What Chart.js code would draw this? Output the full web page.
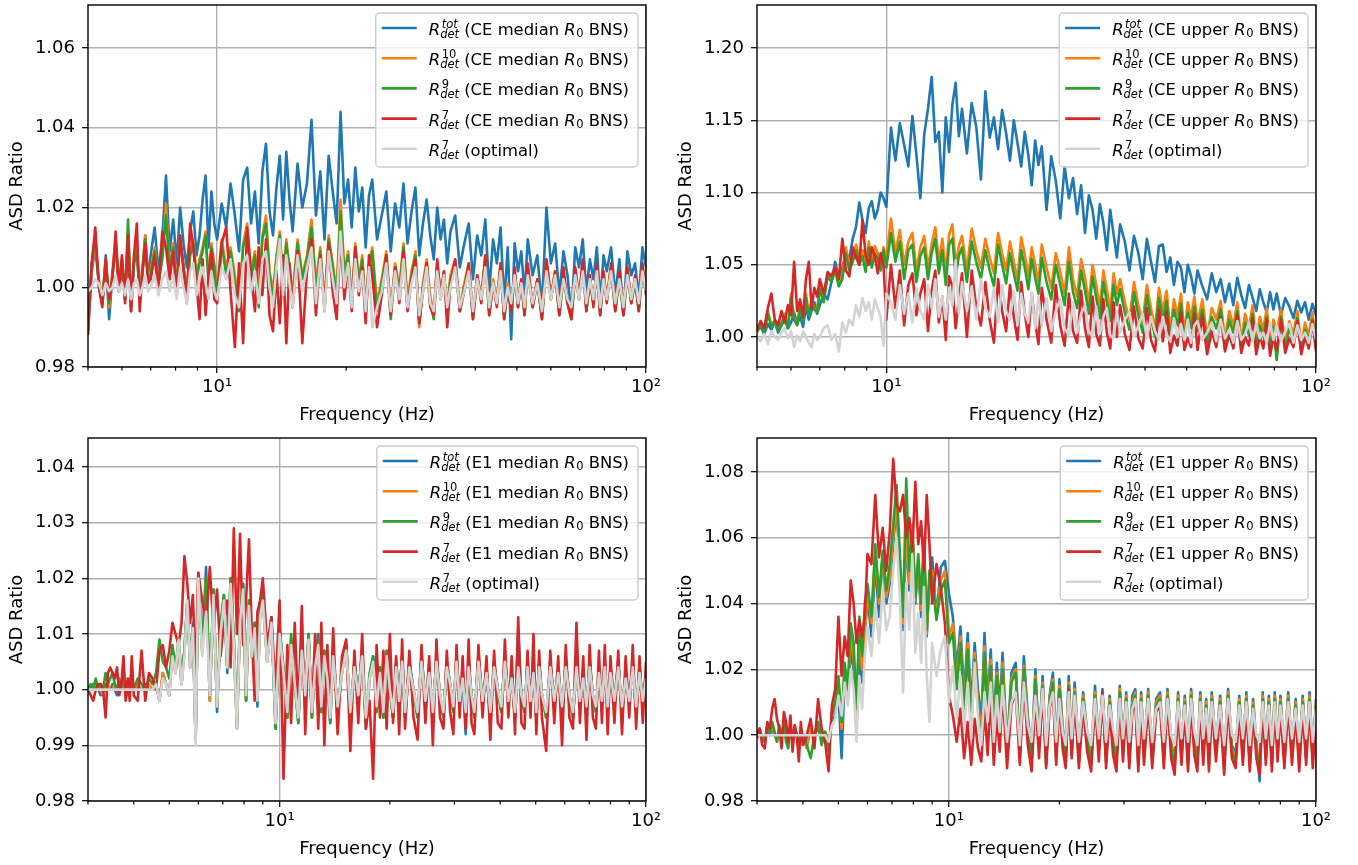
<!DOCTYPE html>
<html><head><meta charset="utf-8">
<script src="https://cdn.jsdelivr.net/npm/chart.js@4.4.1/dist/chart.umd.min.js"></script>
<style>
html,body{margin:0;padding:0;background:#fff;}
body{width:1358px;height:865px;position:relative;overflow:hidden;}
canvas{position:absolute;}
</style></head><body>
<canvas id="c0" width="679" height="433" style="left:0px;top:0px"></canvas>
<canvas id="c1" width="688" height="433" style="left:670px;top:0px"></canvas>
<canvas id="c2" width="679" height="432" style="left:0px;top:433px"></canvas>
<canvas id="c3" width="688" height="432" style="left:670px;top:433px"></canvas>
<script>
// ---------- frequency grids (Hz) ----------
const TOP_FREQ = [
5.0,5.1,5.2,5.3,5.4,5.5,5.6,5.7,5.8,5.9,6.0,6.1,6.2,6.3,6.4,6.5,6.6,6.7,6.8,6.9,
7.0,7.15,7.3,7.45,7.6,7.75,7.9,8.05,8.2,8.35,8.5,8.65,8.8,8.95,9.1,9.25,9.4,9.55,9.7,9.85,
10.0,10.25,10.5,10.75,11.0,11.25,11.5,11.75,12.0,12.25,12.5,12.75,13.0,13.25,13.5,13.75,14.0,14.25,14.5,14.75,
15.0,15.4,15.8,16.2,16.6,17.0,17.4,17.8,18.2,18.6,19.0,19.4,19.8,20.2,20.6,21.0,21.4,21.8,22.2,22.6,
23.0,23.6,24.2,24.8,25.4,26.0,26.6,27.2,27.8,28.4,29.0,29.6,30.2,30.8,31.4,32.0,32.6,33.2,33.8,34.4,
35.0,35.9,36.8,37.7,38.6,39.5,40.4,41.3,42.2,43.1,44.0,44.9,45.8,46.7,47.6,48.5,49.4,50.3,51.2,52.1,
53.0,54.4,55.8,57.2,58.6,60.0,61.4,62.8,64.2,65.6,67.0,68.4,69.8,71.2,72.6,74.0,75.4,76.8,78.2,79.6,
81.0,82.9,84.8,86.7,88.6,90.5,92.4,94.3,96.2,98.1,100];
const BOT_FREQ = [
3.00,3.05,3.10,3.15,3.20,3.25,3.30,3.35,3.40,3.45,3.50,3.55,3.60,3.65,3.70,3.75,3.80,3.85,3.90,3.95,
4.0,4.1,4.2,4.3,4.4,4.5,4.6,4.7,4.8,4.9,5.0,5.1,5.2,5.3,5.4,5.5,5.6,5.7,5.8,5.9,
6.0,6.15,6.3,6.45,6.6,6.75,6.9,7.05,7.2,7.35,7.5,7.65,7.8,7.95,8.1,8.25,8.4,8.55,8.7,8.85,
9.0,9.25,9.5,9.75,10.0,10.25,10.5,10.75,11.0,11.25,11.5,11.75,12.0,12.25,12.5,12.75,13.0,13.25,13.5,13.75,
14.0,14.4,14.8,15.2,15.6,16.0,16.4,16.8,17.2,17.6,18.0,18.4,18.8,19.2,19.6,20.0,20.4,20.8,21.2,21.6,
22.0,22.6,23.2,23.8,24.4,25.0,25.6,26.2,26.8,27.4,28.0,28.6,29.2,29.8,30.4,31.0,31.6,32.2,32.8,33.4,
34.0,34.9,35.8,36.7,37.6,38.5,39.4,40.3,41.2,42.1,43.0,43.9,44.8,45.7,46.6,47.5,48.4,49.3,50.2,51.1,
52.0,53.4,54.8,56.2,57.6,59.0,60.4,61.8,63.2,64.6,66.0,67.4,68.8,70.2,71.6,73.0,74.4,75.8,77.2,78.6,
80,82,84,86,88,90,92,94,96,98,100];

// ---------- CE median R0 BNS (top left) ----------
const TL_TOT = [
0.989,1.004,1.010,1.001,0.996,1.008,0.992,1.003,1.011,0.999,1.005,0.997,1.012,0.994,1.006,1.009,0.998,1.004,1.013,1.002,
1.008,1.015,1.004,1.012,1.028,1.009,1.017,1.006,1.020,1.011,1.005,1.014,1.019,1.008,1.013,1.022,1.028,1.010,1.024,1.016,
1.012,1.021,1.015,1.026,1.018,1.009,1.027,1.030,1.016,1.024,1.011,1.029,1.036,1.019,1.013,1.025,1.033,1.017,1.034,1.022,
1.014,1.031,1.020,1.026,1.042,1.018,1.029,1.012,1.033,1.024,1.016,1.044,1.021,1.027,1.015,1.030,1.019,1.025,1.010,1.023,
1.027,1.012,1.018,1.024,1.009,1.021,1.015,1.026,1.011,1.019,1.025,1.008,1.016,1.022,1.013,1.007,1.020,1.012,1.017,1.006,
1.014,1.018,1.005,1.011,1.016,1.002,1.013,1.008,1.017,0.999,1.012,1.006,1.015,0.996,1.010,0.987,1.011,1.004,1.009,0.998,
1.012,1.003,1.008,0.995,1.020,1.006,1.011,0.998,1.009,1.003,0.993,1.010,1.005,1.012,0.999,1.007,1.002,1.010,0.996,1.008,
1.004,1.010,0.998,1.007,0.993,1.009,1.003,1.006,0.997,1.010,1.005];
const TL_10 = [
0.990,1.005,1.011,1.002,0.997,1.007,0.995,1.004,1.012,1.000,1.006,0.998,1.014,0.996,1.007,1.010,0.999,1.005,1.013,1.003,
1.004,1.010,1.002,1.008,1.021,1.005,1.011,1.001,1.013,1.006,0.999,1.009,1.012,1.003,1.007,1.010,1.014,1.002,1.011,1.006,
1.000,1.012,1.005,1.010,1.003,0.996,1.011,1.016,1.004,1.009,0.998,1.013,1.018,1.004,0.999,1.008,1.014,1.002,1.012,1.005,
0.998,1.012,1.003,1.008,1.017,1.001,1.010,0.996,1.013,1.006,0.999,1.022,1.004,1.009,0.997,1.011,1.002,1.008,0.995,1.006,
1.010,0.996,1.002,1.009,0.994,1.006,1.000,1.011,0.997,1.004,1.009,0.990,1.001,1.007,0.998,0.993,1.006,0.999,1.004,0.995,
1.003,1.007,0.995,1.001,1.006,0.993,1.003,0.998,1.008,0.994,1.002,0.997,1.006,0.993,1.001,0.995,1.004,0.996,1.002,0.994,
1.005,0.996,1.002,0.993,1.007,0.998,1.004,0.994,1.003,0.997,0.993,1.004,0.998,1.006,0.995,1.002,0.997,1.005,0.994,1.003,
0.998,1.005,0.995,1.003,0.994,1.004,0.997,1.002,0.995,1.005,1.000];
const TL_9 = [
0.991,1.006,1.012,1.001,0.996,1.006,0.996,1.003,1.011,1.001,1.007,0.997,1.017,0.995,1.006,1.009,0.998,1.004,1.012,1.002,
1.003,1.009,1.001,1.007,1.018,1.004,1.010,1.000,1.012,1.005,0.998,1.008,1.011,1.002,1.006,1.009,1.013,1.001,1.010,1.005,
0.998,1.011,1.003,1.009,1.001,0.994,1.010,1.014,1.002,1.008,0.995,1.012,1.016,1.003,0.997,1.007,1.013,1.000,1.011,1.004,
0.996,1.011,1.002,1.007,1.015,0.999,1.009,0.994,1.012,1.005,0.997,1.019,1.003,1.008,0.995,1.010,1.001,1.007,0.993,1.005,
1.009,0.994,1.001,1.008,0.992,1.005,0.999,1.010,0.995,1.003,1.008,0.991,1.000,1.006,0.996,0.992,1.005,0.998,1.003,0.994,
1.002,1.006,0.994,1.000,1.005,0.992,1.002,0.997,1.007,0.993,1.001,0.996,1.005,0.992,1.000,0.994,1.003,0.995,1.001,0.993,
1.004,0.995,1.001,0.992,1.006,0.997,1.003,0.993,1.002,0.996,0.992,1.003,0.997,1.005,0.994,1.001,0.996,1.004,0.993,1.002,
0.997,1.004,0.994,1.002,0.993,1.003,0.996,1.001,0.994,1.004,0.999];
const TL_7 = [
0.988,1.006,1.015,1.000,0.995,1.007,0.997,1.002,1.014,0.999,1.008,0.996,1.013,0.994,1.008,1.016,0.994,1.004,1.011,1.001,
1.002,1.008,0.999,1.014,1.010,1.002,1.009,0.998,1.013,1.004,0.996,1.016,1.010,1.001,0.992,1.007,0.993,1.003,1.009,0.997,
0.996,1.011,1.015,0.999,0.985,1.006,0.986,1.015,1.003,0.994,1.010,0.998,1.012,0.993,0.989,1.004,0.991,1.008,0.986,1.006,
0.995,1.009,0.986,1.004,1.012,0.993,1.008,0.995,1.011,0.999,0.992,1.013,0.997,1.006,0.994,1.010,0.998,1.005,0.991,1.008,
1.003,0.990,0.998,1.008,0.993,1.005,0.996,1.009,0.994,1.002,1.007,0.991,0.999,1.006,0.995,0.993,1.007,0.997,1.004,0.990,
1.001,1.007,0.994,0.999,1.006,0.992,1.003,0.996,1.008,0.993,1.001,0.995,1.006,0.992,1.000,0.994,1.005,0.995,1.002,0.993,
1.006,0.995,1.002,0.992,1.007,0.997,1.004,0.993,1.005,0.996,0.992,1.005,0.997,1.007,0.994,1.003,0.995,1.006,0.993,1.004,
0.996,1.006,0.994,1.004,0.993,1.005,0.996,1.003,0.994,1.006,0.998];
const TL_OPT = [
0.999,1.000,1.002,1.001,0.998,1.001,0.999,1.000,1.003,0.999,1.001,0.998,1.002,0.997,1.001,1.002,0.998,1.000,1.003,0.999,
1.000,1.003,0.998,1.002,1.004,0.999,1.003,0.997,1.005,1.000,0.996,1.004,1.006,0.998,1.002,1.005,1.001,0.997,1.004,0.999,
0.997,1.005,1.002,1.007,0.998,0.995,1.006,1.008,0.999,1.004,0.996,1.007,1.009,1.000,0.995,1.005,1.012,0.998,1.008,1.001,
0.995,1.008,0.999,1.005,1.010,0.996,1.007,0.994,1.009,1.002,0.996,1.014,1.000,1.006,0.995,1.007,0.999,1.004,0.994,1.005,
0.990,0.995,0.999,1.006,0.994,1.004,0.997,1.007,0.995,1.001,1.005,0.993,0.999,1.005,0.996,0.994,1.004,0.997,1.003,0.995,
1.000,1.005,0.995,0.999,1.004,0.994,1.002,0.997,1.005,0.995,1.001,0.996,1.004,0.994,1.000,0.996,1.003,0.996,1.001,0.995,
1.003,0.996,1.001,0.994,1.004,0.997,1.003,0.995,1.002,0.997,0.995,1.003,0.997,1.004,0.996,1.002,0.997,1.004,0.995,1.002,
0.997,1.004,0.996,1.002,0.995,1.003,0.997,1.002,0.996,1.004,0.999];

// ---------- CE upper R0 BNS (top right) ----------
const TR_TOT = [
1.004,1.007,1.002,1.009,1.005,1.011,1.003,1.008,1.012,1.006,1.010,1.017,1.009,1.014,1.007,1.021,1.012,1.018,1.024,1.016,
1.022,1.030,1.026,1.038,1.052,1.041,1.048,1.058,1.054,1.068,1.076,1.093,1.081,1.072,1.089,1.094,1.082,1.088,1.100,1.096,
1.090,1.145,1.122,1.148,1.133,1.118,1.153,1.126,1.096,1.140,1.158,1.180,1.135,1.142,1.100,1.152,1.128,1.161,1.176,1.139,
1.158,1.127,1.162,1.145,1.109,1.170,1.138,1.152,1.130,1.157,1.141,1.122,1.150,1.134,1.118,1.142,1.126,1.105,1.136,1.119,
1.132,1.088,1.125,1.108,1.082,1.118,1.096,1.110,1.085,1.105,1.072,1.098,1.088,1.068,1.092,1.079,1.060,1.088,1.071,1.055,
1.078,1.066,1.046,1.070,1.058,1.040,1.068,1.052,1.038,1.063,1.064,1.045,1.055,1.036,1.052,1.048,1.031,1.050,1.042,1.030,
1.046,1.035,1.026,1.044,1.031,1.040,1.024,1.037,1.022,1.041,1.029,1.020,1.036,1.027,1.018,1.033,1.024,1.017,1.031,1.019,
1.030,1.015,1.027,1.021,1.013,1.025,1.017,1.024,1.012,1.023,1.015];
const TR_10 = [
1.003,1.009,1.004,1.018,1.008,1.012,1.005,1.010,1.016,1.007,1.030,1.013,1.009,1.022,1.012,1.030,1.016,1.026,1.020,1.018,
1.036,1.026,1.044,1.040,1.048,1.038,1.043,1.062,1.050,1.056,1.064,1.055,1.060,1.048,1.066,1.052,1.063,1.058,1.050,1.062,
1.055,1.082,1.058,1.074,1.050,1.066,1.072,1.046,1.062,1.070,1.048,1.064,1.076,1.052,1.068,1.045,1.071,1.078,1.050,1.063,
1.070,1.047,1.075,1.060,1.048,1.068,1.055,1.044,1.072,1.058,1.046,1.066,1.052,1.040,1.069,1.057,1.042,1.062,1.050,1.038,
1.064,1.048,1.034,1.058,1.045,1.030,1.062,1.040,1.028,1.054,1.041,1.024,1.050,1.036,1.020,1.046,1.033,1.018,1.044,1.030,
1.040,1.024,1.012,1.038,1.022,1.010,1.036,1.020,1.006,1.034,1.018,1.032,1.004,1.026,1.015,1.030,1.002,1.024,1.013,1.028,
1.010,1.026,1.000,1.020,1.012,1.025,0.998,1.018,1.008,1.024,0.997,1.016,1.006,1.022,0.998,1.014,1.005,1.020,0.996,1.012,
1.004,1.019,0.995,1.011,1.002,1.018,0.994,1.010,1.001,1.017,0.996];
const TR_9 = [
1.004,1.008,1.003,1.016,1.007,1.011,1.004,1.009,1.014,1.006,1.027,1.012,1.008,1.020,1.011,1.027,1.015,1.024,1.019,1.017,
1.033,1.024,1.042,1.038,1.046,1.035,1.040,1.058,1.046,1.052,1.060,1.050,1.056,1.045,1.062,1.048,1.058,1.054,1.046,1.060,
1.048,1.072,1.052,1.066,1.040,1.060,1.064,1.038,1.056,1.062,1.040,1.058,1.068,1.044,1.060,1.036,1.064,1.068,1.042,1.056,
1.062,1.038,1.066,1.052,1.040,1.060,1.046,1.035,1.064,1.050,1.037,1.058,1.044,1.032,1.060,1.048,1.033,1.054,1.041,1.030,
1.055,1.038,1.026,1.050,1.036,1.022,1.052,1.031,1.020,1.046,1.032,1.016,1.042,1.027,1.013,1.038,1.024,1.011,1.036,1.022,
1.033,1.017,1.005,1.031,1.015,1.003,1.029,1.013,1.000,1.027,1.011,1.025,0.998,1.019,1.008,1.023,0.997,1.017,1.006,1.021,
1.004,1.019,0.995,1.014,1.006,1.019,0.993,1.012,1.003,1.018,0.992,1.010,1.001,1.016,0.993,1.008,1.000,1.014,0.991,1.007,
0.984,1.014,0.992,1.006,0.998,1.013,0.991,1.005,0.997,1.012,0.993];
const TR_7 = [
1.005,1.011,1.006,1.020,1.030,1.012,1.008,1.018,1.010,1.022,1.015,1.052,1.018,1.026,1.014,1.040,1.052,1.020,1.034,1.028,
1.040,1.030,1.045,1.042,1.048,1.040,1.068,1.046,1.042,1.062,1.055,1.050,1.081,1.056,1.050,1.062,1.056,1.044,1.058,1.050,
1.012,1.050,1.020,1.046,1.008,1.036,1.044,1.015,1.030,1.040,1.004,1.032,1.046,1.010,1.028,0.998,1.042,1.035,1.006,1.026,
1.044,1.000,1.046,1.020,1.008,1.038,1.012,0.996,1.040,1.018,1.004,1.036,1.014,0.998,1.038,1.016,1.000,1.030,1.010,0.995,
1.034,1.012,0.996,1.036,1.008,0.994,1.030,1.004,0.996,1.032,1.006,0.993,1.028,1.002,0.994,1.026,1.003,0.992,1.024,1.000,
1.022,1.002,0.991,1.021,0.999,0.992,1.020,0.998,0.990,1.019,0.997,1.018,0.989,1.001,0.994,1.017,0.991,0.999,0.993,1.016,
0.991,1.015,0.988,1.004,0.993,1.014,0.990,1.002,0.992,1.015,0.989,1.000,0.994,1.013,0.988,1.001,0.992,1.012,0.987,1.000,
0.991,1.012,0.989,0.999,0.993,1.011,0.988,1.000,0.992,1.011,0.990];
const TR_OPT = [
1.000,0.997,1.002,0.995,1.004,1.000,0.998,1.003,1.006,0.999,1.004,0.993,1.001,0.997,1.004,1.000,0.996,0.993,1.002,0.998,
1.000,1.006,1.008,0.998,1.002,0.990,1.010,1.003,1.012,1.008,1.022,1.014,1.027,1.018,1.024,1.012,1.026,1.020,1.014,0.994,
1.030,1.024,1.012,1.036,1.016,1.030,1.010,1.034,1.018,1.012,1.036,1.020,1.040,1.014,1.028,1.012,1.034,1.022,1.053,1.016,
1.038,1.018,1.035,1.012,1.040,1.020,1.014,1.034,1.010,1.036,1.018,1.012,1.032,1.008,1.030,1.016,1.010,1.031,1.006,1.028,
1.008,1.027,1.004,1.018,1.026,1.006,1.001,1.024,1.003,1.016,1.022,1.004,1.000,1.021,1.002,1.014,1.020,1.001,0.999,1.018,
1.003,1.012,1.017,1.000,1.008,1.016,0.999,1.014,1.004,0.998,1.014,1.002,0.997,1.013,1.000,1.009,0.998,1.012,0.996,1.008,
1.011,0.998,1.003,1.010,0.997,1.012,0.999,1.005,0.996,1.011,0.998,1.002,1.010,0.997,1.009,0.999,1.003,0.996,1.010,0.998,
1.008,0.997,1.004,1.009,0.996,1.008,0.998,1.003,0.996,1.009,0.998];

// ---------- E1 median R0 BNS (bottom left) ----------
const BL_TOT = [
1.000,1.000,1.001,1.000,1.000,0.999,1.000,1.001,1.000,1.000,1.001,1.000,0.999,1.000,1.001,1.000,1.000,1.001,1.000,1.000,
1.001,1.000,1.000,1.001,1.000,1.000,1.001,0.998,1.003,1.001,0.999,1.007,1.003,1.008,1.001,1.007,1.016,1.004,1.012,0.991,
1.021,1.007,1.022,0.998,1.018,0.996,1.011,1.017,1.003,1.020,1.009,0.993,1.013,1.019,0.998,1.016,1.006,1.012,0.997,1.016,
1.017,1.005,1.013,0.993,1.011,1.003,0.995,1.009,1.001,0.994,1.008,0.999,1.010,0.995,1.005,1.010,0.996,1.007,1.002,0.994,
1.007,0.996,1.003,1.008,0.995,1.005,0.999,1.007,0.993,1.002,1.006,0.996,1.003,0.995,1.007,1.000,0.995,1.005,0.998,1.006,
0.995,1.005,1.000,0.995,1.006,0.998,1.003,0.995,1.006,0.999,0.995,1.005,1.001,0.996,1.006,0.998,1.002,0.992,1.005,0.999,
0.995,1.006,0.998,1.003,0.995,1.005,1.000,0.996,1.006,0.998,1.002,0.995,1.011,0.999,0.996,1.005,0.998,1.003,0.995,1.005,
0.999,0.995,1.005,0.998,1.003,0.996,1.005,0.999,0.995,1.005,0.998,1.002,0.996,1.005,0.999,0.996,1.003,0.998,1.005,0.996,
1.004,0.998,1.005,0.996,1.002,0.998,1.005,0.996,1.003,0.998,1.002];
const BL_10 = [
1.000,1.000,1.000,1.001,1.000,1.000,0.999,1.000,1.001,1.000,1.000,1.001,1.000,1.000,1.000,1.001,1.000,1.000,1.001,1.000,
1.000,1.001,1.000,1.000,1.001,1.000,1.001,0.998,1.003,1.001,0.999,1.007,1.003,1.008,1.001,1.007,1.016,1.004,1.011,0.991,
1.020,1.007,1.020,0.998,1.017,0.997,1.011,1.016,1.004,1.019,1.008,0.993,1.012,1.018,0.998,1.015,1.006,1.011,0.998,1.014,
1.016,1.005,1.012,0.994,1.010,1.003,0.995,1.008,1.001,0.995,1.007,0.999,1.009,0.995,1.004,1.009,0.996,1.006,1.002,0.995,
1.006,0.996,1.003,1.007,0.995,1.004,0.999,1.006,0.994,1.002,1.005,0.996,1.003,0.995,1.006,1.000,0.995,1.004,0.998,1.005,
0.995,1.004,1.000,0.995,1.005,0.998,1.003,0.995,1.005,0.999,0.995,1.004,1.001,0.996,1.005,0.998,1.002,0.995,1.004,0.999,
0.995,1.005,0.998,1.003,0.995,1.004,1.000,0.996,1.005,0.998,1.002,0.995,1.005,0.999,0.996,1.004,0.998,1.003,0.995,1.004,
0.999,0.995,1.004,0.998,1.003,0.996,1.004,0.999,0.995,1.004,0.998,1.002,0.996,1.004,0.999,0.996,1.003,0.998,1.004,0.996,
1.003,0.998,1.004,0.996,1.002,0.998,1.004,0.996,1.003,0.998,1.002];
const BL_9 = [
1.000,1.001,1.000,1.002,1.000,1.001,1.000,1.003,1.001,1.002,1.003,1.001,1.000,1.002,1.000,1.003,1.001,0.999,1.002,1.001,
1.000,1.002,1.001,1.000,1.002,1.001,1.003,1.009,1.005,1.004,1.002,1.008,1.004,1.009,1.003,1.007,1.016,1.005,1.011,0.991,
1.020,1.008,1.020,0.999,1.018,0.997,1.012,1.017,1.004,1.020,1.009,0.994,1.013,1.019,0.998,1.016,1.007,1.012,0.998,1.015,
1.017,1.006,1.013,0.993,1.011,1.004,0.995,1.010,1.001,0.994,1.008,0.999,1.010,0.995,1.005,1.009,0.996,1.007,1.002,0.994,
1.007,0.996,1.004,1.008,0.995,1.005,0.999,1.007,0.994,1.003,1.006,0.996,1.004,0.995,1.007,1.000,0.995,1.005,0.998,1.006,
0.995,1.005,1.000,0.995,1.006,0.998,1.004,0.995,1.006,0.999,0.995,1.005,1.001,0.996,1.006,0.998,1.003,0.995,1.005,0.999,
0.995,1.006,0.998,1.004,0.995,1.005,1.000,0.996,1.006,0.998,1.003,0.995,1.005,0.999,0.996,1.005,0.998,1.004,0.995,1.005,
0.999,0.995,1.005,0.998,1.004,0.996,1.005,0.999,0.995,1.005,0.998,1.003,0.996,1.005,0.999,0.996,1.004,0.998,1.005,0.996,
1.004,0.998,1.005,0.996,1.003,0.998,1.005,0.996,1.004,0.998,1.003];
const BL_7 = [
1.000,0.999,0.998,1.000,1.001,1.001,1.000,0.995,1.003,1.004,1.003,1.002,1.004,0.999,1.001,1.006,0.998,1.002,0.998,1.006,
0.999,0.998,1.007,0.998,1.003,1.002,1.000,1.007,1.008,1.004,1.007,1.012,1.010,1.008,1.012,1.024,1.019,1.012,1.017,1.002,
1.021,1.016,1.012,1.022,1.011,1.018,1.006,1.012,1.016,1.004,1.029,1.010,1.028,1.008,1.016,1.027,1.010,0.998,1.014,1.016,
1.020,1.008,1.013,1.000,1.016,0.984,1.008,0.994,1.012,0.996,1.015,0.992,1.009,0.996,1.010,0.993,1.012,0.990,1.008,0.995,
1.011,0.992,1.006,1.009,0.989,1.007,0.994,1.010,0.993,0.998,0.984,1.008,0.995,1.007,0.993,1.010,0.994,1.006,0.992,1.009,
0.993,1.007,0.995,0.991,1.008,0.994,1.006,0.990,1.009,0.995,0.993,1.007,0.996,0.992,1.008,0.995,1.006,0.993,1.009,0.994,
0.992,1.008,0.995,1.006,0.991,1.007,0.994,0.993,1.009,0.995,1.006,0.992,1.013,0.994,0.993,1.007,0.995,1.010,0.992,1.007,
0.995,0.989,1.007,0.994,1.006,0.990,1.008,0.995,0.993,1.012,0.994,1.006,0.991,1.008,0.995,0.993,1.007,0.994,1.008,0.992,
1.006,0.994,1.007,0.992,1.006,0.995,1.008,0.993,1.006,0.994,1.005];
const BL_OPT = [
1.000,1.000,1.000,1.000,1.000,1.000,1.000,1.000,1.000,1.000,1.000,1.000,1.000,1.000,1.000,1.000,1.000,1.000,1.000,1.000,
1.000,1.000,1.000,1.000,1.000,1.000,1.001,0.998,1.002,1.001,0.999,1.006,1.003,1.009,1.001,1.006,1.016,1.004,1.011,0.990,
1.020,1.006,1.014,0.999,1.017,0.997,1.010,1.016,1.004,1.019,1.008,0.993,1.012,1.018,0.999,1.015,1.006,1.011,0.998,1.013,
1.016,1.005,1.012,0.994,1.010,1.003,0.996,1.008,1.001,0.995,1.007,0.999,1.009,0.996,1.004,1.008,0.997,1.006,1.002,0.995,
1.006,0.997,1.003,1.007,0.996,1.004,0.999,1.006,0.995,1.002,1.005,0.997,1.003,0.996,1.006,1.000,0.996,1.004,0.998,1.005,
0.996,1.004,1.000,0.996,1.005,0.998,1.003,0.996,1.005,0.999,0.996,1.004,1.001,0.997,1.005,0.998,1.002,0.996,1.004,0.999,
0.996,1.005,0.998,1.003,0.996,1.004,1.000,0.997,1.005,0.998,1.002,0.996,1.004,0.999,0.997,1.004,0.998,1.003,0.996,1.004,
0.999,0.996,1.004,0.998,1.003,0.997,1.004,0.999,0.996,1.004,0.998,1.002,0.997,1.004,0.999,0.997,1.003,0.998,1.004,0.997,
1.003,0.998,1.004,0.997,1.002,0.998,1.004,0.997,1.003,0.998,1.002];

// ---------- E1 upper R0 BNS (bottom right) ----------
const BR_TOT = [
1.000,1.001,1.000,0.999,1.001,1.000,1.002,1.000,0.999,1.001,1.000,1.001,1.000,0.999,1.001,1.000,1.002,1.000,0.999,1.001,
1.000,0.998,1.001,1.000,1.002,0.999,1.001,0.997,1.004,1.006,1.013,0.993,1.018,1.010,1.026,1.020,1.004,1.024,1.016,1.030,
1.042,1.030,1.052,1.036,1.055,1.040,1.046,1.058,1.070,1.050,1.032,1.060,1.044,1.062,1.040,1.052,1.036,1.058,1.030,1.046,
1.054,1.036,1.051,1.053,1.043,1.036,1.020,1.033,1.012,1.031,1.008,1.028,1.014,1.004,1.031,1.010,1.026,1.002,1.022,1.008,
1.025,0.996,1.019,1.022,0.995,1.024,1.006,0.994,1.020,0.998,1.018,0.993,1.012,1.019,0.995,1.017,1.003,0.994,1.018,0.996,
1.016,0.994,1.013,1.001,0.993,1.015,0.997,1.014,0.994,1.012,1.000,0.993,1.015,0.996,1.013,0.994,1.012,1.014,0.993,1.013,
0.995,1.014,0.994,1.011,1.013,0.994,1.014,0.998,0.992,1.013,0.995,1.012,0.993,1.014,0.999,0.993,1.013,0.995,1.011,0.993,
1.013,0.996,1.012,0.992,1.014,0.997,0.994,1.012,0.995,1.013,0.993,1.011,0.998,0.986,1.013,0.995,1.012,0.993,1.013,0.996,
1.012,0.994,1.013,0.995,1.011,0.993,1.012,0.995,1.013,0.994,1.011];
const BR_10 = [
1.000,1.002,0.999,0.998,1.002,1.001,1.003,1.000,0.998,1.002,0.999,1.003,0.999,0.997,1.002,0.999,1.003,1.000,0.996,1.002,
0.999,0.996,1.002,1.000,1.004,0.998,1.001,0.996,1.006,1.008,1.016,1.002,1.020,1.012,1.030,1.024,1.006,1.033,1.020,1.030,
1.044,1.034,1.055,1.040,1.054,1.042,1.048,1.060,1.072,1.050,1.034,1.062,1.046,1.064,1.041,1.053,1.038,1.059,1.031,1.048,
1.050,1.036,1.047,1.050,1.030,1.034,1.016,1.030,1.009,1.028,1.004,1.025,1.010,1.000,1.027,1.007,1.023,0.998,1.019,1.005,
1.022,0.995,1.017,1.020,0.994,1.021,1.004,0.993,1.018,0.997,1.016,0.992,1.011,1.017,0.994,1.015,1.002,0.993,1.016,0.995,
1.014,0.993,1.012,1.000,0.992,1.013,0.996,1.013,0.993,1.011,0.999,0.992,1.014,0.995,1.012,0.993,1.010,1.013,0.992,1.012,
0.994,1.013,0.993,1.010,1.012,0.993,1.013,0.997,0.991,1.012,0.994,1.011,0.992,1.013,0.998,0.992,1.012,0.994,1.010,0.992,
1.012,0.995,1.011,0.991,1.013,0.996,0.993,1.011,0.994,1.012,0.992,1.010,0.997,0.990,1.012,0.994,1.011,0.992,1.012,0.995,
1.011,0.993,1.012,0.994,1.010,0.992,1.011,0.994,1.012,0.993,1.010];
const BR_9 = [
1.000,1.002,0.999,0.998,1.003,1.001,1.004,1.001,0.998,1.003,0.999,1.004,0.998,0.996,1.003,0.999,1.002,1.000,0.995,1.002,
0.999,0.997,0.993,1.000,1.004,0.997,1.001,0.995,1.006,1.010,1.018,1.004,1.022,1.014,1.034,1.028,1.008,1.036,1.024,1.040,
1.046,1.036,1.058,1.042,1.056,1.044,1.052,1.064,1.076,1.055,1.036,1.078,1.050,1.062,1.042,1.055,1.040,1.060,1.032,1.050,
1.048,1.035,1.044,1.047,1.028,1.031,1.014,1.028,1.007,1.026,1.002,1.023,1.008,0.998,1.025,1.005,1.021,0.997,1.018,1.004,
1.020,0.994,1.016,1.019,0.993,1.020,1.003,0.992,1.017,0.996,1.015,0.991,1.010,1.016,0.993,1.014,1.001,0.992,1.015,0.994,
1.013,0.992,1.011,0.999,0.991,1.012,0.995,1.012,0.992,1.010,0.998,0.991,1.013,0.994,1.011,0.992,1.009,1.012,0.991,1.011,
0.993,1.012,0.992,1.009,1.011,0.992,1.012,0.996,0.990,1.011,0.993,1.010,0.991,1.012,0.997,0.991,1.011,0.993,1.009,0.991,
1.011,0.994,1.010,0.990,1.012,0.995,0.992,1.010,0.993,1.011,0.991,1.009,0.996,0.989,1.011,0.993,1.010,0.991,1.011,0.994,
1.010,0.992,1.011,0.993,1.009,0.991,1.010,0.993,1.011,0.992,1.009];
const BR_7 = [
0.999,1.002,0.997,0.996,1.004,1.002,1.008,1.011,1.005,1.002,0.996,1.007,1.004,0.998,1.006,0.995,1.003,1.000,0.992,1.004,
0.997,1.000,1.005,0.996,1.011,1.002,0.998,0.989,1.009,1.014,1.036,1.018,1.030,1.024,1.047,1.040,1.028,1.035,1.030,1.036,
1.055,1.052,1.073,1.054,1.063,1.050,1.062,1.084,1.070,1.068,1.073,1.060,1.066,1.056,1.077,1.058,1.065,1.050,1.073,1.058,
1.040,1.052,1.045,1.034,1.012,1.006,0.998,1.008,0.993,1.004,0.991,1.005,0.996,0.992,1.008,0.994,1.012,0.991,1.006,0.995,
1.014,0.990,1.009,1.013,0.991,1.016,0.997,0.989,1.012,0.993,1.014,0.990,1.008,1.013,0.991,1.011,0.996,0.990,1.014,0.993,
1.012,0.990,1.009,0.995,0.989,1.011,0.992,1.013,0.990,1.008,0.994,0.989,1.011,0.992,1.009,0.990,1.007,1.010,0.989,1.009,
0.991,1.010,0.990,1.007,1.009,0.990,1.011,0.993,0.988,1.009,0.991,1.008,0.989,1.010,0.994,0.989,1.009,0.991,1.007,0.989,
1.009,0.992,1.008,0.988,1.010,0.993,0.990,1.008,0.991,1.009,0.989,1.007,0.993,0.988,1.009,0.991,1.008,0.989,1.009,0.992,
1.008,0.990,1.009,0.991,1.007,0.989,1.008,0.991,1.009,0.990,1.007];
const BR_OPT = [
1.000,1.000,1.000,1.000,1.000,1.000,1.000,1.000,1.000,1.000,1.000,1.000,1.000,1.000,1.000,1.000,1.000,1.000,1.000,1.000,
1.000,1.000,1.000,1.000,1.000,1.000,1.000,0.998,1.003,1.005,1.012,1.006,1.016,1.009,1.020,1.014,0.998,1.018,1.008,1.024,
1.033,1.024,1.040,1.028,1.045,1.032,1.036,1.050,1.060,1.042,1.013,1.046,1.032,1.055,1.025,1.037,1.022,1.045,1.018,1.004,
1.028,1.018,1.026,1.030,1.010,1.021,1.005,1.018,1.002,1.016,0.999,1.022,1.006,0.997,1.013,1.004,1.016,0.998,1.012,1.001,
1.015,0.998,1.010,1.013,0.997,1.016,1.003,0.998,1.012,1.000,1.014,0.997,1.009,1.013,0.998,1.011,1.001,0.997,1.013,0.999,
1.012,0.998,1.010,1.001,0.997,1.011,0.999,1.012,0.998,1.009,1.002,0.997,1.011,0.999,1.010,0.998,1.008,1.011,0.997,1.010,
0.999,1.011,0.998,1.008,1.010,0.998,1.011,1.000,0.997,1.010,0.999,1.009,0.998,1.011,1.001,0.997,1.010,0.999,1.008,0.998,
1.010,0.999,1.009,0.997,1.011,1.000,0.998,1.009,0.999,1.010,0.997,1.008,1.000,0.998,1.010,0.999,1.009,0.997,1.010,0.999,
1.009,0.998,1.010,0.999,1.008,0.998,1.009,0.999,1.010,0.998,1.008];

// ---------- ticks & labels ----------
const X_TICKS_TOP = [5,6,7,8,9,10,20,30,40,50,60,70,80,90,100];
const X_TICKS_BOT = [3,4,5,6,7,8,9,10,20,30,40,50,60,70,80,90,100];
const X_MAJOR = [10,100];
const Y_TICKS_TL = [0.98,1.00,1.02,1.04,1.06];
const Y_TICKS_TR = [1.00,1.05,1.10,1.15,1.20];
const Y_TICKS_BL = [0.98,0.99,1.00,1.01,1.02,1.03,1.04];
const Y_TICKS_BR = [0.98,1.00,1.02,1.04,1.06,1.08];
const PANEL_NAMES = ['CE median','CE upper','E1 median','E1 upper'];
const SUPS = ['tot','10','9','7','7'];
const COLORS = ['#1f77b4','#ff7f0e','#2ca02c','#d62728','#d3d3d3'];

const FONT = 'DejaVu Sans';
const FS = 16.4, SS = 11.5;

function runEntry(ctx, e, x0, base, draw) {
  let x = x0;
  const put = (txt, font, dx, dy) => {
    ctx.font = font;
    if (draw) ctx.fillText(txt, x + dx, base + dy);
    return ctx.measureText(txt).width + dx;
  };
  x += put('R', `italic ${FS}px "${FONT}"`, 0, 0);
  const xs = x;
  const supFont = /^[0-9]+$/.test(e.sup) ? `${SS}px "${FONT}"` : `italic ${SS}px "${FONT}"`;
  const w1 = put(e.sup, supFont, 1.5, -7);
  const w2 = put('det', `italic ${SS}px "${FONT}"`, 0, 3);
  x = xs + Math.max(w1, w2);
  x += put(e.mid, `${FS}px "${FONT}"`, 0, 0);
  if (e.r0) {
    x += put('R', `italic ${FS}px "${FONT}"`, 0, 0);
    x += put('0', `${SS}px "${FONT}"`, 0.5, 2);
    x += put(e.tail, `${FS}px "${FONT}"`, 0, 0);
  }
  return x - x0;
}

function drawLegend(ctx, area, entries) {
  ctx.save();
  ctx.textBaseline = 'alphabetic';
  ctx.textAlign = 'left';
  const widths = entries.map(e => runEntry(ctx, e, 0, 0, false));
  const boxW = 53 + Math.max(...widths) + 9;
  const boxH = 154;
  const right = area.right - 8, top = area.top + 8, left = right - boxW;
  ctx.beginPath();
  if (ctx.roundRect) ctx.roundRect(left, top, boxW, boxH, 4); else ctx.rect(left, top, boxW, boxH);
  ctx.fillStyle = 'rgba(255,255,255,0.8)';
  ctx.fill();
  ctx.strokeStyle = '#cccccc';
  ctx.lineWidth = 1.4;
  ctx.stroke();
  entries.forEach((e, k) => {
    const cy = top + 15 + 30.2 * k;
    ctx.beginPath();
    ctx.strokeStyle = e.color;
    ctx.lineWidth = 2.6;
    ctx.moveTo(left + 6, cy);
    ctx.lineTo(left + 41, cy);
    ctx.stroke();
    ctx.fillStyle = '#000';
    runEntry(ctx, e, left + 53, cy + 7, true);
  });
  ctx.restore();
}

const PANELS = [
  {id:'c0', freq:TOP_FREQ, xMin:5, xMax:100, xTicks:X_TICKS_TOP, yMin:0.98, yMax:1.0708, yTicks:Y_TICKS_TL,
   name:PANEL_NAMES[0], series:[TL_TOT,TL_10,TL_9,TL_7,TL_OPT], pad:{left:0,right:33,top:5,bottom:6}, yW:88, yTitlePad:7},
  {id:'c1', freq:TOP_FREQ, xMin:5, xMax:100, xTicks:X_TICKS_TOP, yMin:0.9792, yMax:1.2298, yTicks:Y_TICKS_TR,
   name:PANEL_NAMES[1], series:[TR_TOT,TR_10,TR_9,TR_7,TR_OPT], pad:{left:0,right:42,top:5,bottom:6}, yW:87, yTitlePad:6},
  {id:'c2', freq:BOT_FREQ, xMin:3, xMax:100, xTicks:X_TICKS_BOT, yMin:0.98, yMax:1.0452, yTicks:Y_TICKS_BL,
   name:PANEL_NAMES[2], series:[BL_TOT,BL_10,BL_9,BL_7,BL_OPT], pad:{left:0,right:33,top:5,bottom:4}, yW:88, yTitlePad:7},
  {id:'c3', freq:BOT_FREQ, xMin:3, xMax:100, xTicks:X_TICKS_BOT, yMin:0.98, yMax:1.0903, yTicks:Y_TICKS_BR,
   name:PANEL_NAMES[3], series:[BR_TOT,BR_10,BR_9,BR_7,BR_OPT], pad:{left:0,right:42,top:5,bottom:4}, yW:87, yTitlePad:6}
];

PANELS.forEach(p => {
  const entries = SUPS.map((s, k) => k < 4
    ? {sup:s, mid:` (${p.name} `, r0:true, tail:' BNS)', color:COLORS[k]}
    : {sup:s, mid:' (optimal)', r0:false, color:COLORS[k]});
  const labels = entries.map(e => e.r0 ? `R_det^${e.sup}${e.mid}R_0${e.tail}` : `R_det^${e.sup}${e.mid}`);
  const datasets = p.series.map((vals, k) => ({
    label: labels[k],
    data: vals.map((v, i) => ({x: p.freq[i], y: v})),
    borderColor: COLORS[k],
    backgroundColor: COLORS[k],
    borderWidth: 2.6,
    borderJoinStyle: 'round',
    pointRadius: 0,
    tension: 0,
    fill: false,
    order: 4 - k
  }));
  const tickFont = {family: FONT, size: 18};
  const framePlugin = {
    id: 'frame_' + p.id,
    afterDatasetsDraw(chart) {
      const ctx = chart.ctx, a = chart.chartArea, xs = chart.scales.x;
      ctx.save();
      ctx.strokeStyle = '#000';
      ctx.lineWidth = 1.2;
      ctx.beginPath();
      p.xTicks.forEach(v => {
        if (X_MAJOR.includes(v)) return;
        const px = xs.getPixelForValue(v);
        ctx.moveTo(px, a.bottom);
        ctx.lineTo(px, a.bottom + 3.6);
      });
      ctx.stroke();
      ctx.lineWidth = 1.4;
      ctx.strokeRect(a.left, a.top, a.right - a.left, a.bottom - a.top);
      ctx.restore();
      drawLegend(ctx, a, entries);
    }
  };
  new Chart(document.getElementById(p.id), {
    type: 'line',
    data: {datasets},
    options: {
      responsive: false,
      animation: false,
      events: [],
      layout: {padding: p.pad},
      plugins: {legend: {display: false}, tooltip: {enabled: false}},
      scales: {
        x: {
          type: 'logarithmic', min: p.xMin, max: p.xMax, bounds: 'data',
          afterBuildTicks: s => { s.ticks = p.xTicks.map(v => ({value: v})); },
          afterFit: s => { s.height = 60; s.paddingLeft = 0; s.paddingRight = 0; },
          ticks: {autoSkip: false, maxRotation: 0, minRotation: 0, padding: 4, color: '#000', font: tickFont,
                  callback: v => v === 10 ? '10\u00b9' : (v === 100 ? '10\u00b2' : '')},
          grid: {
            color: c => (c.tick && X_MAJOR.includes(c.tick.value)) ? '#b0b0b0' : 'rgba(0,0,0,0)',
            lineWidth: 1.4,
            tickColor: c => (c.tick && X_MAJOR.includes(c.tick.value)) ? '#000' : 'rgba(0,0,0,0)',
            tickLength: 6, tickWidth: 1.2, drawTicks: true
          },
          border: {display: false},
          title: {display: true, text: 'Frequency (Hz)', color: '#000', font: tickFont, padding: {top: 0, bottom: 1.2}}
        },
        y: {
          type: 'linear', min: p.yMin, max: p.yMax, bounds: 'data',
          afterBuildTicks: s => { s.ticks = p.yTicks.map(v => ({value: v})); },
          afterFit: s => { s.width = p.yW; s.paddingTop = 0; s.paddingBottom = 0; },
          ticks: {autoSkip: false, padding: 7, color: '#000', font: tickFont, callback: v => Number(v).toFixed(2)},
          grid: {color: '#b0b0b0', lineWidth: 1.4, tickColor: '#000', tickLength: 6, tickWidth: 1.2, drawTicks: true},
          border: {display: false},
          title: {display: true, text: 'ASD Ratio', color: '#000', font: tickFont, padding: {top: p.yTitlePad, bottom: 0}}
        }
      }
    },
    plugins: [framePlugin]
  });
});
</script>
</body></html>
